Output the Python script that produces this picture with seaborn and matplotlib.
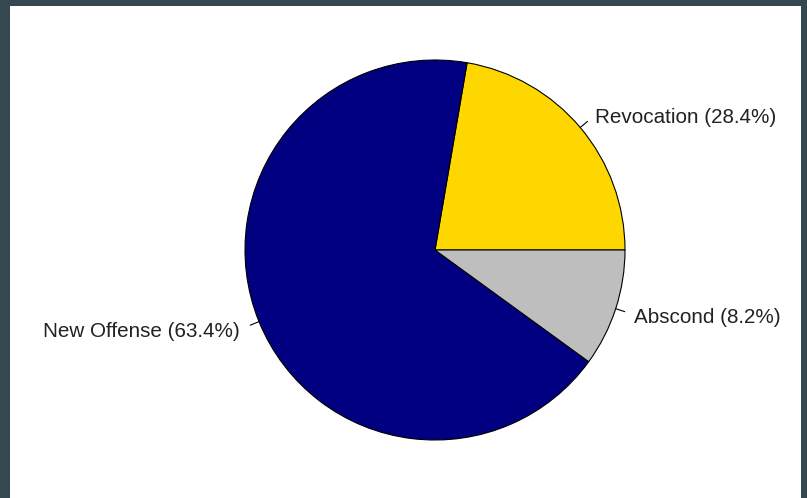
import numpy as np
import matplotlib
matplotlib.use("Agg")
import matplotlib.pyplot as plt
import seaborn as sns

# Data (slice sizes as drawn, labels as printed)
categories = ["Revocation", "New Offense", "Abscond"]
drawn_share = [22.3, 67.7, 10.0]
label_pct = ["28.4%", "63.4%", "8.2%"]
slice_colors = ["#FFD700", "#000080", "#BEBEBE"]

sns.set_style("white")
plt.rcParams['font.family'] = ['Liberation Sans', 'DejaVu Sans']

W, H = 807, 498
fig = plt.figure(figsize=(W / 100, H / 100), dpi=100)
fig.patch.set_facecolor("#37474F")

# white plotting region (pixel box x 10..801, y 6..498)
x0, x1, ytop = 10, 801, 6
ax = fig.add_axes([x0 / W, 0, (x1 - x0) / W, (H - ytop) / H])
ax.set_facecolor("white")

cx, cy, r = 435, H - 250, 190
wedges, _ = ax.pie(drawn_share, colors=slice_colors, startangle=0, counterclock=True,
                   center=(cx, cy), radius=r,
                   wedgeprops=dict(edgecolor="black", linewidth=0.8))

cum = np.cumsum([0] + drawn_share)
total = cum[-1]
for i, (cat, pct) in enumerate(zip(categories, label_pct)):
    mid = np.deg2rad((cum[i] + cum[i + 1]) / 2 / total * 360)
    c, s = np.cos(mid), np.sin(mid)
    ax.plot([cx + r * c, cx + 1.05 * r * c], [cy + r * s, cy + 1.05 * r * s],
            color="black", lw=0.8)
    ax.text(cx + 1.1 * r * c - (2 if c < 0 else 0), cy + 1.1 * r * s - 2.5,
            f"{cat} ({pct})",
            ha="left" if c > 0 else "right", va="center",
            fontsize=14.9, color="#222222")

ax.set_aspect("auto")
ax.set_xlim(x0, x1)
ax.set_ylim(0, H - ytop)
ax.set_xticks([])
ax.set_yticks([])
ax.set_frame_on(True)
for sp in ax.spines.values():
    sp.set_visible(False)

fig.savefig("out.png", dpi=100, facecolor=fig.get_facecolor())
